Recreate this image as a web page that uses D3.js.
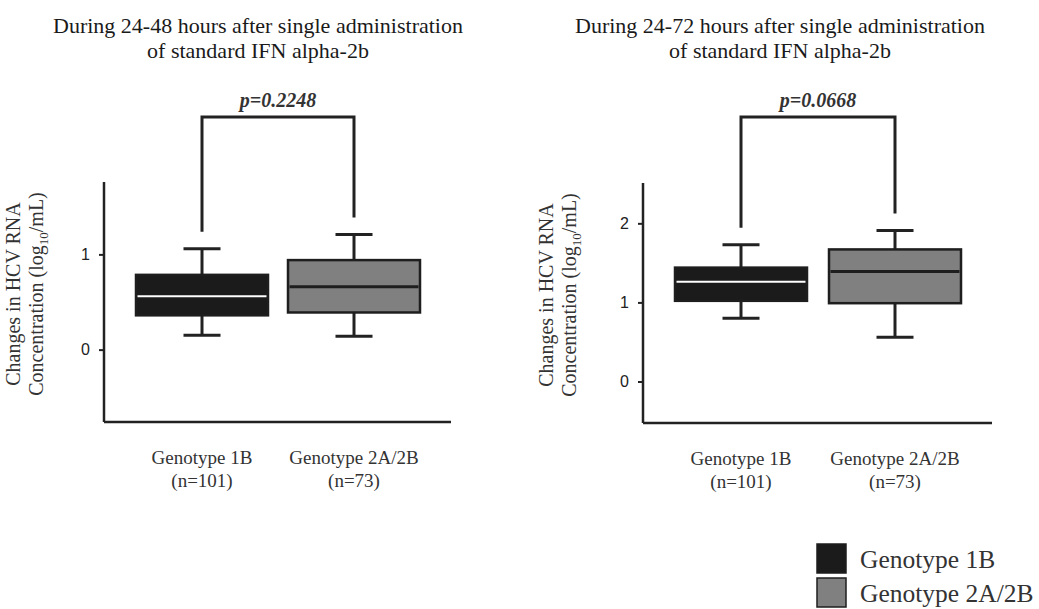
<!DOCTYPE html>
<html>
<head>
<meta charset="utf-8">
<script src="https://cdn.jsdelivr.net/npm/d3@7"></script>
<style>
  body { margin: 0; background: #fff; }
  svg { display: block; font-family: "Liberation Serif", "Times New Roman", serif; }
</style>
</head>
<body>
<div id="chart"></div>
<script>
// data
const groups = ['Genotype 1B', 'Genotype 2A/2B'];
const groupN = ['(n=101)', '(n=73)'];
const titles48 = ['During 24-48 hours after single administration', 'of standard IFN alpha-2b'];
const titles72 = ['During 24-72 hours after single administration', 'of standard IFN alpha-2b'];
const pValues = ['p=0.2248', 'p=0.0668'];
// [whisker low, Q1, median, Q3, whisker high] per group
const box48 = [[0.15, 0.36, 0.56, 0.785, 1.06], [0.14, 0.39, 0.66, 0.94, 1.21]];
const box72 = [[0.80, 1.02, 1.26, 1.44, 1.73], [0.56, 0.99, 1.39, 1.67, 1.91]];
const ticks48 = [0, 1];
const ticks72 = [0, 1, 2];

const width = 1039, height = 609;
const fills = ['#1b1b1b', '#808080'];
const medianColors = ['#ffffff', '#1e1e1e'];

const svg = d3.select('#chart').append('svg')
  .attr('width', width)
  .attr('height', height);

function drawPanel(opts) {
  const g = svg.append('g');
  const { left, right, top, bottom } = opts;

  const y = d3.scaleLinear().domain(opts.domain).range([bottom, top]);
  const x = d3.scalePoint().domain(groups).range([left + 98, right - 97]);
  const boxW = 132, capW = 37;

  // title
  g.append('text')
    .attr('x', opts.titleX)
    .attr('text-anchor', 'middle')
    .attr('font-size', 22)
    .attr('fill', '#1a1a1a')
    .selectAll('tspan')
    .data(opts.title)
    .enter().append('tspan')
    .attr('x', opts.titleX)
    .attr('y', (d, i) => 33 + i * 25)
    .text(d => d);

  // axes
  const yAxis = d3.axisLeft(y).tickValues(opts.ticks).tickSize(5).tickFormat(d3.format('d'));
  const ya = g.append('g')
    .attr('transform', `translate(${left},0)`)
    .call(yAxis);
  ya.select('.domain').remove();
  ya.selectAll('.tick line').attr('stroke', '#222').attr('stroke-width', 2);
  ya.selectAll('.tick text')
    .attr('font-family', '"Liberation Sans", Arial, sans-serif')
    .attr('font-size', 16)
    .attr('fill', '#222')
    .attr('x', -14);

  g.append('line')
    .attr('x1', left).attr('x2', left)
    .attr('y1', top).attr('y2', bottom)
    .attr('stroke', '#222').attr('stroke-width', 2.5);
  g.append('line')
    .attr('x1', left).attr('x2', right)
    .attr('y1', bottom).attr('y2', bottom)
    .attr('stroke', '#222').attr('stroke-width', 2.5);

  // y label
  const yl = g.append('text')
    .attr('transform', `translate(${opts.ylabelX},${(top + bottom) / 2 - 8}) rotate(-90)`)
    .attr('text-anchor', 'middle')
    .attr('font-size', 20)
    .attr('fill', '#333');
  yl.append('tspan').attr('x', 0).attr('y', 0).text('Changes in HCV RNA');
  const l2 = yl.append('tspan').attr('x', 0).attr('y', 23);
  l2.append('tspan').text('Concentration (log');
  l2.append('tspan').attr('font-size', 13).attr('dy', 5).text('10');
  l2.append('tspan').attr('dy', -5).text('/mL)');

  // boxes
  const boxes = g.selectAll('.box')
    .data(opts.data)
    .enter().append('g')
    .attr('class', 'box');

  boxes.append('line')
    .attr('x1', (d, i) => x(groups[i])).attr('x2', (d, i) => x(groups[i]))
    .attr('y1', d => y(d[0])).attr('y2', d => y(d[4]))
    .attr('stroke', '#222').attr('stroke-width', 3);
  boxes.selectAll('.cap')
    .data(d => [d[0], d[4]].map(v => ({ v, i: opts.data.indexOf(d) })))
    .enter().append('line')
    .attr('x1', c => x(groups[c.i]) - capW / 2).attr('x2', c => x(groups[c.i]) + capW / 2)
    .attr('y1', c => y(c.v)).attr('y2', c => y(c.v))
    .attr('stroke', '#222').attr('stroke-width', 3);
  boxes.append('rect')
    .attr('x', (d, i) => x(groups[i]) - boxW / 2)
    .attr('width', boxW)
    .attr('y', d => y(d[3]))
    .attr('height', d => y(d[1]) - y(d[3]))
    .attr('fill', (d, i) => fills[i])
    .attr('stroke', '#1e1e1e')
    .attr('stroke-width', 2.5);
  boxes.append('line')
    .attr('x1', (d, i) => x(groups[i]) - boxW / 2 + 1.5).attr('x2', (d, i) => x(groups[i]) + boxW / 2 - 1.5)
    .attr('y1', d => y(d[2])).attr('y2', d => y(d[2]))
    .attr('stroke', (d, i) => medianColors[i])
    .attr('stroke-width', (d, i) => i === 0 ? 2 : 3);

  // group labels
  const xl = g.selectAll('.xlab')
    .data(groups)
    .enter().append('text')
    .attr('text-anchor', 'middle')
    .attr('font-size', 19)
    .attr('fill', '#333');
  xl.append('tspan').attr('x', d => x(d)).attr('y', bottom + 42).text(d => d);
  xl.append('tspan').attr('x', d => x(d)).attr('y', bottom + 65).text((d, i) => groupN[i]);

  // significance bracket
  const bTop = 117;
  const bx = groups.map(d => x(d));
  const bBottom = opts.data.map(d => y(d[4]) - 17);
  g.append('path')
    .attr('d', `M${bx[0]},${bBottom[0]}V${bTop}H${bx[1]}V${bBottom[1]}`)
    .attr('fill', 'none')
    .attr('stroke', '#222')
    .attr('stroke-width', 3);
  g.append('text')
    .attr('x', (bx[0] + bx[1]) / 2)
    .attr('y', bTop - 10)
    .attr('text-anchor', 'middle')
    .attr('font-size', 20)
    .attr('font-weight', 'bold')
    .attr('font-style', 'italic')
    .attr('fill', '#333')
    .text(opts.p);
}

drawPanel({
  left: 104, right: 451, top: 182, bottom: 422,
  domain: [-0.76, 1.76], ticks: ticks48, data: box48,
  title: titles48, titleX: 258, ylabelX: 20, p: pValues[0]
});

drawPanel({
  left: 643, right: 992, top: 183, bottom: 423,
  domain: [-0.525, 2.51], ticks: ticks72, data: box72,
  title: titles72, titleX: 780, ylabelX: 553, p: pValues[1]
});

// legend
const legend = svg.append('g')
  .attr('transform', 'translate(817,544)');
const li = legend.selectAll('.item')
  .data(groups)
  .enter().append('g')
  .attr('class', 'item')
  .attr('transform', (d, i) => `translate(0,${i * 34})`);
li.append('rect')
  .attr('width', 29).attr('height', 29)
  .attr('fill', (d, i) => fills[i])
  .attr('stroke', '#1e1e1e')
  .attr('stroke-width', 1.5);
li.append('text')
  .attr('x', 43)
  .attr('y', 24)
  .attr('font-size', 25.5)
  .attr('fill', '#333')
  .text(d => d);
</script>
</body>
</html>
